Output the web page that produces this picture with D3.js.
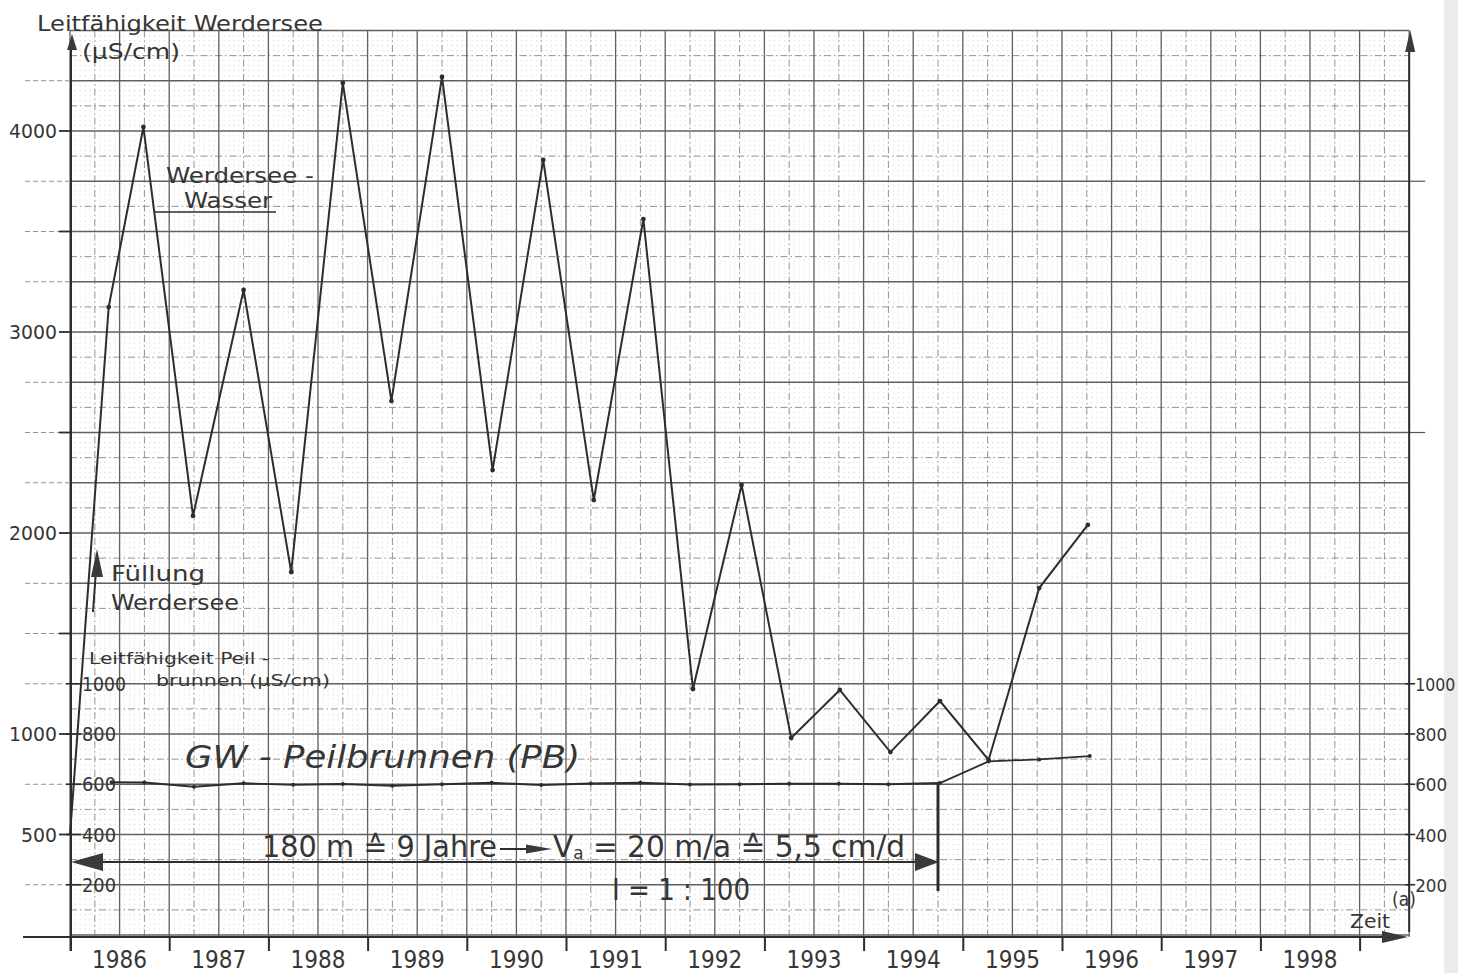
<!DOCTYPE html>
<html>
<head>
<meta charset="utf-8">
<script src="https://cdn.jsdelivr.net/npm/d3@7"></script>
<style>
  body { margin: 0; background: #fff; }
  text { font-family: "DejaVu Sans Condensed", "DejaVu Sans", sans-serif; fill: #363636; }
</style>
</head>
<body>
<svg id="chart" width="1458" height="973"></svg>
<script>
// year labels on the time axis
var years = [1986, 1987, 1988, 1989, 1990, 1991, 1992, 1993, 1994, 1995, 1996, 1997, 1998];

// Leitfähigkeit Werdersee (µS/cm), left scale
var wsTime = [1986.0, 1986.39, 1986.74, 1987.24, 1987.75, 1988.23, 1988.75, 1989.24, 1989.75, 1990.26, 1990.77,
              1991.28, 1991.78, 1992.28, 1992.77, 1993.27, 1993.76, 1994.27, 1994.77, 1995.26, 1995.77, 1996.26];
var wsValue = [497, 3124, 4020, 2085, 3209, 1806, 4239, 2657, 4269, 2313, 3856,
               2164, 3562, 1224, 2239, 980, 1219, 910, 1164, 871, 1726, 2040];

// Leitfähigkeit Peilbrunnen (µS/cm), inner scale
var pbTime = [1986.42, 1986.75, 1987.25, 1987.75, 1988.25, 1988.75, 1989.25, 1989.75, 1990.25, 1990.75, 1991.25,
              1991.75, 1992.25, 1992.75, 1993.25, 1993.75, 1994.25, 1994.77, 1995.26, 1995.77, 1996.28];
var pbValue = [608, 607, 590, 604, 598, 601, 594, 600, 606, 597, 603,
               606, 599, 600, 602, 602, 600, 605, 691, 699, 712];

var leftLabels = [500, 1000, 2000, 3000, 4000];
var leftTicks = [500, 1000, 1500, 2000, 2500, 3000, 3500, 4000];
var pbLabels = [200, 400, 600, 800, 1000];

var svg = d3.select('#chart');
var x = d3.scaleLinear().domain([1986, 1999.5]).range([70, 1409.2]);
var yL = d3.scaleLinear().domain([0, 4500]).range([935, 30.5]);
var yR = d3.scaleLinear().domain([0, 3600]).range([935, 30.5]);
var axisY = 937;
var ink = '#2d2d2d';

// scanner edge on the right
svg.append('rect').attr('x', 1444).attr('y', 0).attr('width', 14).attr('height', 973).attr('fill', '#ececec');

// graph paper: 1 mm dotted, 5 mm dash-dot, 1 cm solid
var grid = svg.append('g');
var vAll = d3.range(0, 271).map(i => ({ i: i, t: 1986 + i / 20 }));
var hAll = d3.range(0, 181).map(i => ({ i: i, v: i * 25 }));

function gridStyle(sel, kind) {
  if (kind == 'minor') {
    sel.attr('stroke', '#d6d6d6').attr('stroke-width', 0.7).attr('stroke-dasharray', '1,3.96');
  } else if (kind == 'mid') {
    sel.attr('stroke', '#939393').attr('stroke-width', 1).attr('stroke-dasharray', '7,3,1.5,3');
  } else {
    sel.attr('stroke', '#606060').attr('stroke-width', 1.3);
  }
}

['minor', 'mid', 'major'].forEach(kind => {
  var pick = d => kind == 'minor' ? d.i % 5 != 0 : (kind == 'mid' ? d.i % 5 == 0 && d.i % 10 != 0 : d.i % 10 == 0);
  grid.selectAll('line.v' + kind)
    .data(vAll.filter(pick))
    .join('line')
    .attr('class', 'v' + kind)
    .attr('x1', d => x(d.t)).attr('x2', d => x(d.t))
    .attr('y1', yL(4500)).attr('y2', axisY)
    .call(gridStyle, kind);
  grid.selectAll('line.h' + kind)
    .data(hAll.filter(pick))
    .join('line')
    .attr('class', 'h' + kind)
    .attr('x1', x(1986)).attr('x2', x(1999.5))
    .attr('y1', d => yL(d.v)).attr('y2', d => yL(d.v))
    .call(gridStyle, kind);
});

// paper lines running out left of the axis
grid.selectAll('line.hleft')
  .data(hAll.filter(d => d.i % 10 == 0 && d.v > 0 && d.v < 4500 && leftLabels.indexOf(d.v) < 0))
  .join('line')
  .attr('class', 'hleft')
  .attr('x1', 25).attr('x2', x(1986))
  .attr('y1', d => yL(d.v)).attr('y2', d => yL(d.v))
  .attr('stroke', '#909090').attr('stroke-width', 1).attr('stroke-dasharray', '5,3');

// short marks right of the right axis
svg.selectAll('line.rmark')
  .data([2500, 3750])
  .join('line')
  .attr('class', 'rmark')
  .attr('x1', x(1999.5)).attr('x2', x(1999.5) + 16)
  .attr('y1', d => yL(d)).attr('y2', d => yL(d))
  .attr('stroke', '#555').attr('stroke-width', 1.2);

function arrowHead(g, tx, ty, dir, len, half) {
  var p;
  if (dir == 'up') p = [[tx, ty], [tx - half, ty + len], [tx + half, ty + len]];
  else if (dir == 'right') p = [[tx, ty], [tx - len, ty - half], [tx - len, ty + half]];
  else p = [[tx, ty], [tx + len, ty - half], [tx + len, ty + half]];
  g.append('path').attr('d', 'M' + p.join('L') + 'Z').attr('fill', '#3a3a3a');
}

// axes
var axes = svg.append('g');
axes.append('line').attr('x1', 71).attr('x2', 71).attr('y1', 40).attr('y2', 951)
  .attr('stroke', ink).attr('stroke-width', 2);
arrowHead(axes, 72, 34, 'up', 16, 5);
axes.append('line').attr('x1', x(1999.5)).attr('x2', x(1999.5)).attr('y1', 40).attr('y2', 932)
  .attr('stroke', ink).attr('stroke-width', 2);
arrowHead(axes, x(1999.5) + 1, 30, 'up', 22, 5);
axes.append('line').attr('x1', 23).attr('x2', 1395).attr('y1', axisY).attr('y2', axisY)
  .attr('stroke', ink).attr('stroke-width', 2);
arrowHead(axes, 1408, axisY, 'right', 26, 6);

var xAxis = d3.axisBottom(x)
  .tickValues(years.concat([1999]))
  .tickSize(14)
  .tickSizeOuter(0)
  .tickFormat('');
var xg = axes.append('g').attr('transform', 'translate(0,' + axisY + ')').call(xAxis);
xg.select('.domain').remove();
xg.selectAll('.tick line').attr('stroke', ink).attr('stroke-width', 2);

axes.selectAll('text.year')
  .data(years)
  .join('text')
  .attr('class', 'year')
  .attr('x', d => x(d + 0.5))
  .attr('y', 968)
  .attr('text-anchor', 'middle')
  .attr('font-size', 25)
  .attr('textLength', 55)
  .attr('lengthAdjust', 'spacingAndGlyphs')
  .text(d => d);

// left scale, Werdersee
axes.selectAll('line.ltick')
  .data(leftTicks)
  .join('line')
  .attr('class', 'ltick')
  .attr('x1', 59).attr('x2', 72)
  .attr('y1', d => yL(d)).attr('y2', d => yL(d))
  .attr('stroke', ink).attr('stroke-width', 1.8);
axes.selectAll('text.llab')
  .data(leftLabels)
  .join('text')
  .attr('class', 'llab')
  .attr('x', 57)
  .attr('y', d => yL(d) + 7)
  .attr('text-anchor', 'end')
  .attr('font-size', 19)
  .attr('textLength', d => d >= 1000 ? 48 : 36)
  .attr('lengthAdjust', 'spacingAndGlyphs')
  .text(d => d);

// inner scale, Peilbrunnen
axes.selectAll('line.ptick')
  .data(pbLabels)
  .join('line')
  .attr('class', 'ptick')
  .attr('x1', 66).attr('x2', 81)
  .attr('y1', d => yR(d)).attr('y2', d => yR(d))
  .attr('stroke', ink).attr('stroke-width', 1.6);
axes.selectAll('text.plab')
  .data(pbLabels)
  .join('text')
  .attr('class', 'plab')
  .attr('x', 82)
  .attr('y', d => yR(d) + 7)
  .attr('font-size', 19)
  .attr('textLength', d => d >= 1000 ? 44 : 34)
  .attr('lengthAdjust', 'spacingAndGlyphs')
  .text(d => d);

// right scale, Peilbrunnen
axes.selectAll('line.rtick')
  .data(pbLabels)
  .join('line')
  .attr('class', 'rtick')
  .attr('x1', x(1999.5) - 4).attr('x2', x(1999.5) + 6)
  .attr('y1', d => yR(d)).attr('y2', d => yR(d))
  .attr('stroke', ink).attr('stroke-width', 1.6);
axes.selectAll('text.rlab')
  .data(pbLabels)
  .join('text')
  .attr('class', 'rlab')
  .attr('x', x(1999.5) + 6)
  .attr('y', d => yR(d) + 7)
  .attr('font-size', 18)
  .attr('textLength', d => d >= 1000 ? 40 : 32)
  .attr('lengthAdjust', 'spacingAndGlyphs')
  .text(d => d);

// data lines
var plot = svg.append('g');
var ws = wsTime.map((t, i) => ({ t: t, v: wsValue[i] }));
var pb = pbTime.map((t, i) => ({ t: t, v: pbValue[i] }));

plot.append('path')
  .datum(ws)
  .attr('d', d3.line().x(d => x(d.t)).y(d => yL(d.v)))
  .attr('fill', 'none').attr('stroke', ink).attr('stroke-width', 2).attr('stroke-linejoin', 'miter');
plot.selectAll('circle.ws')
  .data(ws.slice(1))
  .join('circle')
  .attr('class', 'ws')
  .attr('cx', d => x(d.t)).attr('cy', d => yL(d.v)).attr('r', 2.4)
  .attr('fill', ink);

plot.append('path')
  .datum(pb)
  .attr('d', d3.line().x(d => x(d.t)).y(d => yR(d.v)))
  .attr('fill', 'none').attr('stroke', ink).attr('stroke-width', 1.8);
plot.selectAll('circle.pb')
  .data(pb)
  .join('circle')
  .attr('class', 'pb')
  .attr('cx', d => x(d.t)).attr('cy', d => yR(d.v)).attr('r', 2)
  .attr('fill', ink);

// annotations
var notes = svg.append('g');
function label(tx, ty, size, len, str, italic) {
  var t = notes.append('text')
    .attr('x', tx).attr('y', ty)
    .attr('font-size', size)
    .attr('textLength', len)
    .attr('lengthAdjust', 'spacingAndGlyphs')
    .text(str);
  if (italic) t.attr('font-style', 'italic');
  return t;
}

label(37, 31, 22, 286, 'Leitfähigkeit Werdersee');
label(82, 59, 21, 98, '(µS/cm)');
label(166, 183, 22, 148, 'Werdersee -');
label(184, 208, 22, 88, 'Wasser');
notes.append('line').attr('x1', 155).attr('x2', 276).attr('y1', 212).attr('y2', 212)
  .attr('stroke', ink).attr('stroke-width', 1.6);

label(111, 581, 22, 94, 'Füllung');
label(111, 610, 22, 128, 'Werdersee');
notes.append('line').attr('x1', 93).attr('x2', 96).attr('y1', 612).attr('y2', 570)
  .attr('stroke', ink).attr('stroke-width', 2);
arrowHead(notes, 97, 549, 'up', 28, 6);

label(89, 664, 16, 180, 'Leitfähigkeit  Peil -');
label(156, 686, 16, 174, 'brunnen (µS/cm)');

label(185, 768, 32, 395, 'GW - Peilbrunnen (PB)', true);

// travel distance arrow and velocity note
var arrowY = 862;
notes.append('line').attr('x1', 90).attr('x2', 920).attr('y1', arrowY).attr('y2', arrowY)
  .attr('stroke', ink).attr('stroke-width', 2);
arrowHead(notes, 71, arrowY, 'left', 32, 9);
arrowHead(notes, 939, arrowY, 'right', 24, 9);
notes.append('line').attr('x1', x(1994.75)).attr('x2', x(1994.75)).attr('y1', yR(605)).attr('y2', 891)
  .attr('stroke', ink).attr('stroke-width', 3);

label(262, 857, 30, 235, '180 m ≙ 9 Jahre');
notes.append('line').attr('x1', 500).attr('x2', 530).attr('y1', 849).attr('y2', 849)
  .attr('stroke', ink).attr('stroke-width', 2);
arrowHead(notes, 552, 849, 'right', 26, 4.5);
var va = notes.append('text').attr('x', 553).attr('y', 857).attr('font-size', 30);
va.append('tspan').text('V');
va.append('tspan').attr('font-size', 17).attr('dy', 2).text('a');
va.append('tspan').attr('dy', -2).text('  = 20 m/a ≙ 5,5 cm/d');
va.attr('textLength', 352).attr('lengthAdjust', 'spacingAndGlyphs');

label(612, 900, 30, 138, 'I = 1 : 100');

label(1350, 928, 20, 40, 'Zeit');
notes.append('text').attr('x', 1392).attr('y', 906).attr('font-size', 19).text('(a)');
</script>
</body>
</html>
